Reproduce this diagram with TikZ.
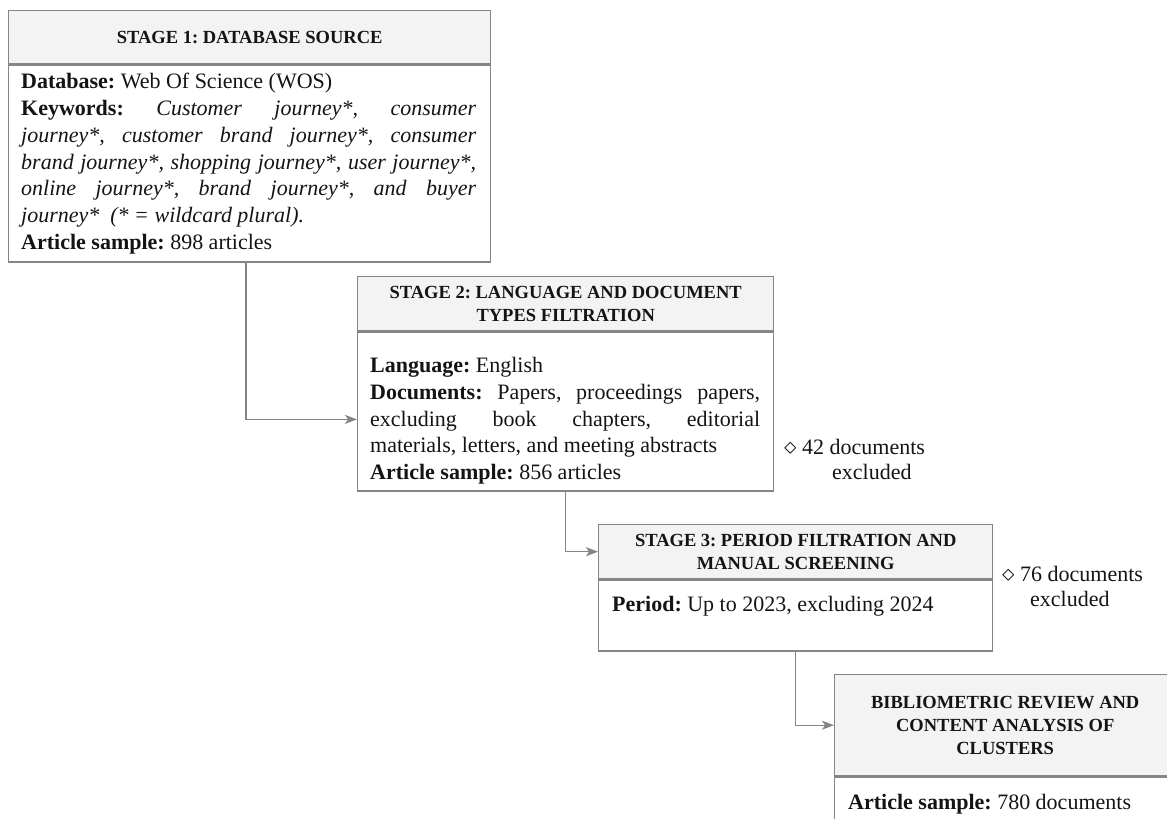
\documentclass[tikz,border=0pt]{standalone}
\usepackage{fontspec}
\setmainfont{Liberation Serif}
\usetikzlibrary{arrows.meta}
\definecolor{lineg}{HTML}{858585}
\definecolor{hdrfill}{HTML}{F3F3F3}
\definecolor{txt}{HTML}{141414}
\newcommand{\exdiam}{{\fontsize{30}{30}\selectfont$\diamond$}}
\begin{document}
\frenchspacing
\begin{tikzpicture}[x=1pt,y=-1pt,
  boxframe/.style={draw=lineg, line width=1.4pt, inner sep=0pt, anchor=north west},
  hdr/.style={boxframe, fill=hdrfill, align=center, font=\fontsize{18.5}{23}\selectfont\bfseries, text=txt},
  bodytext/.style={anchor=north west, inner sep=0pt, align=justify, font=\fontsize{22}{26.8}\selectfont, text=txt},
  exclnote/.style={anchor=north west, inner sep=0pt, align=left, font=\fontsize{22}{25}\selectfont, text=txt},
  conn/.style={draw=lineg, line width=1.4pt, -{Stealth[length=12pt,width=9pt,inset=3pt]}}]
\useasboundingbox (0,0) rectangle (1167,819);
\clip (0,0) rectangle (1167,819);

% Stage 1
\node[hdr, minimum width=482pt, minimum height=53pt] (h1) at (8,10) {STAGE 1: DATABASE SOURCE};
\node[boxframe, minimum width=482pt, minimum height=197pt] (b1) at (h1.south west) {};
\node[bodytext, text width=455pt] (t1) at (21,73) {\textbf{Database:} Web Of Science (WOS)\\
\textbf{Keywords:} \textit{Customer journey*, consumer\linebreak journey*, customer brand journey*, consumer\linebreak brand journey*, shopping journey*, user journey*,\linebreak online journey*, brand journey*, and buyer\linebreak journey*~ (* = wildcard plural).}\\
\textbf{Article sample:} 898 articles};

% Stage 2
\node[hdr, minimum width=416pt, minimum height=54pt] (h2) at (357,276) {STAGE 2: LANGUAGE AND DOCUMENT\\TYPES FILTRATION};
\node[boxframe, minimum width=416pt, minimum height=159pt] (b2) at (h2.south west) {};
\node[bodytext, text width=390pt] (t2) at (370,357) {\textbf{Language:} English\\
\textbf{Documents:} Papers, proceedings papers,\linebreak excluding book chapters, editorial\linebreak materials, letters, and meeting abstracts\\
\textbf{Article sample:} 856 articles};

% Stage 3
\node[hdr, minimum width=394pt, minimum height=54pt] (h3) at (598,524) {STAGE 3: PERIOD FILTRATION AND\\MANUAL SCREENING};
\node[boxframe, minimum width=394pt, minimum height=71pt] (b3) at (h3.south west) {};
\node[bodytext, align=left] (t3) at (612,596) {\textbf{Period:} Up to 2023, excluding 2024};

% Stage 4
\node[hdr, minimum width=341pt, minimum height=101pt] (h4) at (834,674) {BIBLIOMETRIC REVIEW AND\\CONTENT ANALYSIS OF\\CLUSTERS};
\node[boxframe, minimum width=341pt, minimum height=80pt] (b4) at (h4.south west) {};
\node[bodytext, align=left] (t4) at (848,794) {\textbf{Article sample:} 780 documents};

% exclusion notes
\node[exclnote] (n1) at (784,439) {\exdiam\ 42 documents\\\hspace*{48pt}excluded};
\node[exclnote] (n2) at (1002,566) {\exdiam\ 76 documents\\\hspace*{28pt}excluded};

% connectors
\draw[conn] ([xshift=238pt]b1.south west) |- ([yshift=-88pt]b2.north west);
\draw[conn] ([xshift=208.5pt]b2.south west) |- (h3.west);
\draw[conn] ([xshift=197.5pt]b3.south west) |- (h4.west);
\end{tikzpicture}
\end{document}
